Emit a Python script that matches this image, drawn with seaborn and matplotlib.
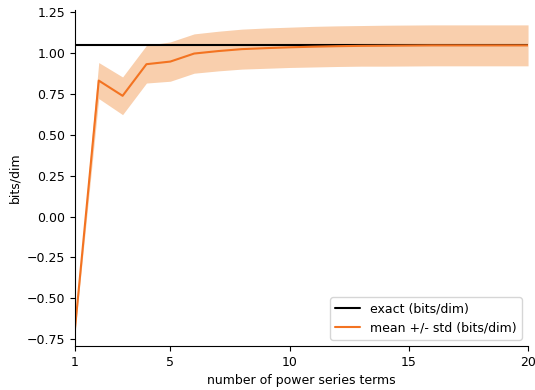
import seaborn as sns
import matplotlib.pyplot as plt
import pandas as pd
import numpy as np

# number of power series terms
n_terms = list(range(1, 21))
# mean bits/dim estimate per number of terms
mean_bpd = [-0.69, 0.83, 0.737, 0.93, 0.946, 0.995, 1.01, 1.022, 1.028, 1.033,
            1.037, 1.040, 1.042, 1.043, 1.044, 1.045, 1.045, 1.045, 1.045, 1.045]
# std of the estimate
std_bpd = [0.02, 0.11, 0.115, 0.115, 0.12, 0.12, 0.121, 0.122, 0.123, 0.123,
           0.124, 0.124, 0.124, 0.125, 0.125, 0.125, 0.125, 0.125, 0.125, 0.125]
exact_bpd = 1.047

df = pd.DataFrame({'terms': n_terms, 'mean': mean_bpd, 'std': std_bpd})
df['exact'] = exact_bpd

sns.set_style('white')
plt.rcParams['font.family'] = ['DejaVu Sans']
plt.rcParams['font.size'] = 9
for key in ['text.color', 'axes.labelcolor', 'xtick.color', 'ytick.color']:
    plt.rcParams[key] = 'black'

fig, ax = plt.subplots(figsize=(5.35, 3.9), dpi=100)
fig.subplots_adjust(left=0.14, right=0.987, top=0.974, bottom=0.113)

ax.fill_between(df['terms'], df['mean'] - df['std'], df['mean'] + df['std'],
                color='#f9cfad', linewidth=0)
sns.lineplot(data=df, x='terms', y='exact', color='black', lw=1.5,
             label='exact (bits/dim)', ax=ax)
sns.lineplot(data=df, x='terms', y='mean', color='#f37321', lw=1.5,
             label='mean +/- std (bits/dim)', ax=ax)

ax.set_xlim(1, 20)
ax.set_ylim(-0.79, 1.26)
ax.set_xticks([1, 5, 10, 15, 20])
ax.set_yticks(np.arange(-0.75, 1.26, 0.25))
ax.tick_params(axis='both', which='both', length=3.5, width=0.8, left=True, bottom=True,
               labelsize=9)
ax.set_xlabel('number of power series terms', fontsize=9)
ax.set_ylabel('bits/dim', fontsize=9)
sns.despine(ax=ax)
for s in ['left', 'bottom']:
    ax.spines[s].set_color('black')
    ax.spines[s].set_linewidth(0.8)
ax.legend(loc='lower right', fontsize=9)

fig.savefig('out.png', dpi=100)
